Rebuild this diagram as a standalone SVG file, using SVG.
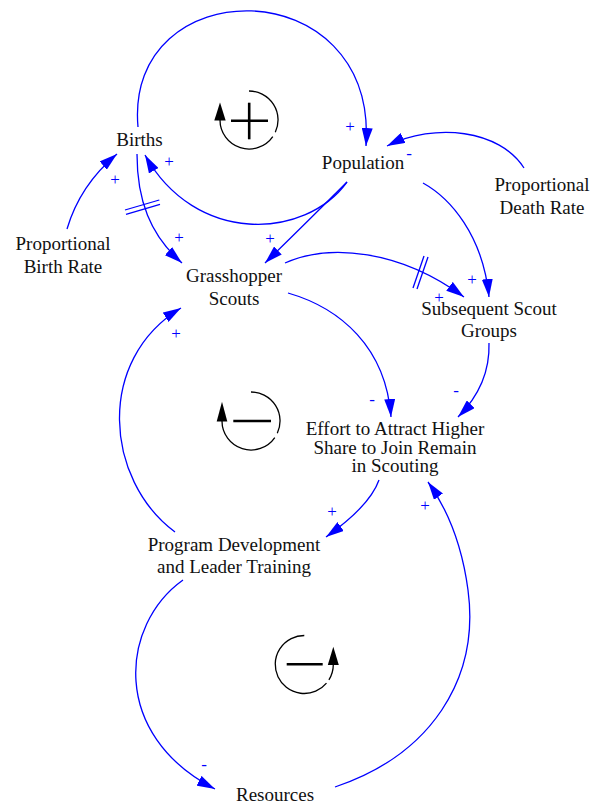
<svg xmlns="http://www.w3.org/2000/svg" width="592" height="804" viewBox="0 0 592 804">
<style>
  .lbl{font-family:"Liberation Serif","Times New Roman",serif;font-size:19px;fill:#111;text-anchor:middle}
  .pol{font-family:"Liberation Serif","Times New Roman",serif;font-size:17px;fill:#0000FF;text-anchor:middle}
  .lnk{fill:none;stroke:#0000FF;stroke-width:1.3;marker-end:url(#ah)}
  .dly{stroke:#0000FF;stroke-width:1.3}
  .loop{fill:none;stroke:#000;stroke-width:1.3}
  .sym{stroke:#000;stroke-width:2.6}
</style>
<defs>
  <marker id="ah" markerUnits="userSpaceOnUse" viewBox="0 0 18 11" refX="18" refY="5.5" markerWidth="18" markerHeight="11" orient="auto">
    <path d="M0,0 L18,5.5 L0,11 z" fill="#0000FF"/>
  </marker>
</defs>
<rect width="592" height="804" fill="#fff"/>

<g id="connectors">
  <!-- A Births -> Population -->
  <path class="lnk" d="M138,127 C124,-30 378,-32 366,146"/>
  <!-- B Population -> Births -->
  <path class="lnk" d="M347,182 C305,240 195,245 145,155"/>
  <!-- C Proportional Birth Rate -> Births -->
  <path class="lnk" d="M67,229 Q80,185 117,154"/>
  <!-- D Births -> Grasshopper Scouts (delay) -->
  <path class="lnk" d="M137,154 C137,200 150,235 182,263"/>
  <line class="dly" x1="125" y1="210" x2="159.3" y2="200"/>
  <line class="dly" x1="126" y1="214.3" x2="160" y2="204.3"/>
  <!-- E Population -> Grasshopper Scouts -->
  <path class="lnk" d="M347,182 Q303,226 265,263"/>
  <!-- F Proportional Death Rate -> Population -->
  <path class="lnk" d="M524,168 C500,130 435,122 387,146"/>
  <!-- G Population -> Subsequent Scout Groups -->
  <path class="lnk" d="M423,183 C450,198 483,235 489,297"/>
  <!-- H Grasshopper Scouts -> Subsequent Scout Groups (delay) -->
  <path class="lnk" d="M285,263 C330,243 400,250 464,297"/>
  <line class="dly" x1="413" y1="288" x2="424" y2="256"/>
  <line class="dly" x1="417" y1="289" x2="428" y2="257"/>
  <!-- I Grasshopper Scouts -> Effort -->
  <path class="lnk" d="M288,293 C340,308 386,347 391,417"/>
  <!-- J Subsequent Scout Groups -> Effort -->
  <path class="lnk" d="M489,343 C490,375 475,400 458,417"/>
  <!-- K Effort -> Program Development -->
  <path class="lnk" d="M379,480 C372,500 350,520 326,537"/>
  <!-- L Program Development -> Grasshopper Scouts -->
  <path class="lnk" d="M175,532 C105,480 95,360 181,308"/>
  <!-- M Program Development -> Resources -->
  <path class="lnk" d="M183,580 C120,625 110,735 215,789"/>
  <!-- N Resources -> Effort -->
  <path class="lnk" d="M335,787 C430,755 480,680 468,590 C462,545 448,510 428,482"/>
</g>

<g id="polarities">
  <text class="pol" x="350" y="132.3">+</text>
  <text class="pol" x="409" y="158.6">-</text>
  <text class="pol" x="169" y="167.3">+</text>
  <text class="pol" x="115" y="185.3">+</text>
  <text class="pol" x="179" y="243.3">+</text>
  <text class="pol" x="270" y="244.3">+</text>
  <text class="pol" x="472" y="285.3">+</text>
  <text class="pol" x="439" y="303.3">+</text>
  <text class="pol" x="372" y="405">-</text>
  <text class="pol" x="456" y="396">-</text>
  <text class="pol" x="332" y="517.3">+</text>
  <text class="pol" x="176" y="339.3">+</text>
  <text class="pol" x="204" y="770">-</text>
  <text class="pol" x="425" y="511.3">+</text>
</g>

<g id="loop-R">
  <path class="loop" d="M249,91 A29,29 0 0 1 275.3,132.3"/>
  <path class="loop" d="M272.8,136.6 A29,29 0 0 1 220,120"/>
  <polygon points="214.3,120.5 225.7,120.5 220,102.5" fill="#000"/>
  <line class="sym" x1="231" y1="120.7" x2="268" y2="120.7"/>
  <line class="sym" x1="249.2" y1="102.7" x2="249.2" y2="139.3"/>
</g>
<g id="loop-B1">
  <path class="loop" d="M251,392 A29,29 0 0 1 277.3,433.3"/>
  <path class="loop" d="M274.8,437.6 A29,29 0 0 1 222,421"/>
  <polygon points="216.7,421.5 227.3,421.5 222,401.7" fill="#000"/>
  <line class="sym" x1="233.3" y1="421" x2="271" y2="421"/>
</g>
<g id="loop-B2">
  <path class="loop" d="M304.3,635.5 A29,29 0 1 0 326.5,683.1"/>
  <path class="loop" d="M328.9,679.9 A29,29 0 0 0 333.3,664.5"/>
  <polygon points="327.8,665 338.8,665 333.3,646.7" fill="#000"/>
  <line class="sym" x1="286.7" y1="664.3" x2="322.7" y2="664.3"/>
</g>

<g id="births"><text class="lbl" x="139.5" y="146">Births</text></g>
<g id="population"><text class="lbl" x="363" y="169">Population</text></g>
<g id="proportional-death-rate"><text class="lbl" x="542" y="191">Proportional</text><text class="lbl" x="542" y="214">Death Rate</text></g>
<g id="proportional-birth-rate"><text class="lbl" x="63" y="250">Proportional</text><text class="lbl" x="63" y="273">Birth Rate</text></g>
<g id="grasshopper-scouts"><text class="lbl" x="234" y="282">Grasshopper</text><text class="lbl" x="234" y="305">Scouts</text></g>
<g id="subsequent-scout-groups"><text class="lbl" x="489" y="315">Subsequent Scout</text><text class="lbl" x="489" y="337">Groups</text></g>
<g id="effort"><text class="lbl" x="395" y="435">Effort to Attract Higher</text><text class="lbl" x="395" y="453.5">Share to Join Remain</text><text class="lbl" x="395" y="472">in Scouting</text></g>
<g id="program-development"><text class="lbl" x="234" y="551">Program Development</text><text class="lbl" x="234" y="573">and Leader Training</text></g>
<g id="resources"><text class="lbl" x="275" y="801">Resources</text></g>
</svg>
